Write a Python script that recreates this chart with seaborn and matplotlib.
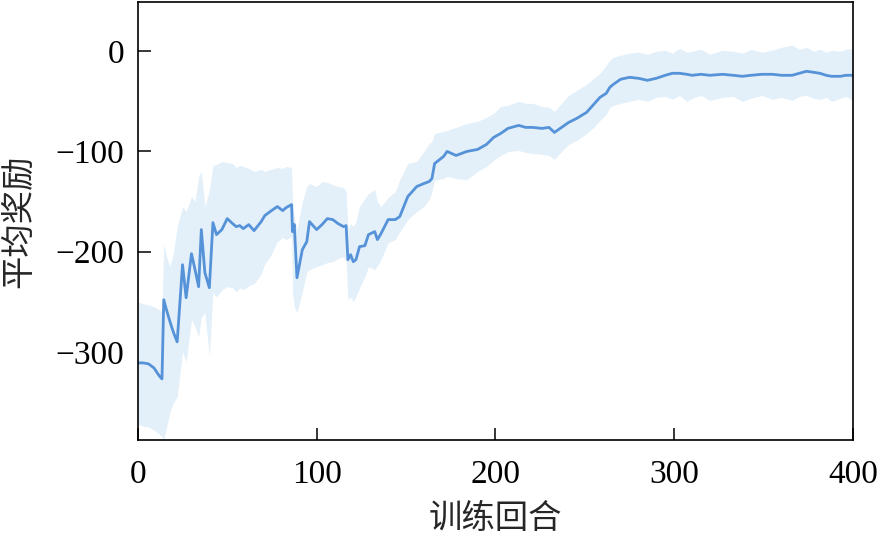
import pandas as pd
import matplotlib
matplotlib.use("Agg")
import matplotlib.pyplot as plt
import seaborn as sns

# training episodes and reward statistics
episodes = [0, 3, 6, 9, 12, 13.5, 14.5, 16, 18, 20, 22, 25, 27, 30, 32, 34, 35.5, 37.5, 40, 42,
            44, 47, 50, 53, 55, 57, 59, 62, 65, 69, 71, 74, 78, 81, 83, 86, 86.5, 87.5, 89, 92,
            94.5, 96, 100, 103, 106, 109, 112, 115, 116.5, 117.5, 119, 120.5, 122, 124, 127, 129, 132.5, 134, 136, 140,
            144, 146.5, 151, 156, 160, 163, 164.5, 166, 171, 173, 178, 184, 190, 195, 199, 203, 207, 213, 217, 221,
            226, 230, 233, 237, 241, 245.5, 251, 255, 258.5, 262, 264, 266, 270, 275, 280, 285, 290, 295, 299, 303,
            307, 310, 315, 320, 327, 333, 338, 343, 349, 355, 360, 366, 370, 374, 378, 381.5, 385, 388, 393, 396, 400]
mean_reward = [-311, -311, -312, -316, -324, -327, -248, -258, -270, -281, -290, -213, -246, -202, -218, -235, -178, -221, -236, -171,
               -183, -178, -167, -172, -175, -174, -177, -173, -179, -170, -164, -160, -155, -159, -156, -153, -180, -173, -226, -198,
               -190, -170, -178, -173, -167, -168, -172, -175, -174, -208, -203, -210, -208, -195, -194, -183, -180, -188, -182, -168,
               -168, -165, -145, -135, -132, -130, -127, -112, -105, -100, -104, -100, -98, -93, -86, -82, -77, -74, -76, -76,
               -77, -76, -81, -76, -71, -67, -61, -53, -46, -42, -36, -33, -28, -26, -27, -29, -27, -24, -22, -22,
               -23, -24, -23, -24, -23, -24, -25, -24, -23, -23, -24, -24, -22, -20, -21, -22, -24, -25, -25, -24, -24]
lower_reward = [-372, -374, -375, -378, -382, -385, -388, -375, -360, -350, -345, -300, -310, -268, -275, -285, -265, -261, -305, -241,
                -245, -238, -235, -236, -240, -236, -238, -234, -232, -222, -212, -205, -190, -186, -188, -185, -240, -255, -261, -240,
                -220, -218, -215, -213, -211, -210, -207, -205, -210, -248, -245, -250, -245, -236, -225, -215, -218, -214, -208, -191,
                -188, -180, -168, -160, -155, -148, -140, -129, -127, -125, -127, -128, -120, -115, -109, -104, -100, -99, -101, -102,
                -103, -104, -108, -100, -93, -89, -82, -76, -69, -63, -56, -54, -52, -50, -48, -50, -46, -45, -48, -44,
                -50, -47, -44, -49, -46, -45, -50, -47, -44, -48, -46, -49, -45, -44, -47, -48, -46, -50, -47, -45, -49]
upper_reward = [-250, -252, -253, -255, -258, -260, -192, -205, -215, -200, -175, -155, -160, -145, -150, -125, -120, -155, -139, -114,
                -113, -110, -111, -112, -116, -114, -115, -117, -120, -118, -120, -118, -116, -117, -115, -116, -150, -165, -178, -150,
                -135, -132, -135, -130, -131, -133, -135, -136, -140, -178, -172, -175, -170, -155, -147, -142, -138, -150, -155, -146,
                -140, -128, -112, -110, -100, -92, -90, -82, -80, -79, -76, -72, -70, -66, -62, -55, -54, -50, -52, -52,
                -55, -56, -60, -52, -44, -39, -33, -27, -22, -14, -9, -6, -4, -2, -1, -3, 0, 1, -2, 3,
                -1, 0, 2, -3, 1, 0, -2, 2, -1, 1, 4, 6, 2, 4, 0, 2, -1, 1, 0, 2, 3]

df = pd.DataFrame({"episode": episodes, "mean": mean_reward, "lower": lower_reward, "upper": upper_reward})

sns.set_style("ticks")
plt.rcParams["font.family"] = ["Liberation Serif", "Noto Sans CJK SC"]
plt.rcParams["axes.unicode_minus"] = True

fig = plt.figure(figsize=(8.78, 5.36), dpi=100)
ax = fig.add_axes([0.157, 0.179, 0.8145, 0.817])

ax.fill_between(df["episode"], df["lower"], df["upper"], color="#e3f0fa", linewidth=0)
sns.lineplot(data=df, x="episode", y="mean", color="#5592d8", linewidth=2.0, ax=ax)

ax.set_xlim(0, 400)
ax.set_ylim(-388, 49)
ax.set_xticks([0, 100, 200, 300, 400])
ax.set_yticks([0, -100, -200, -300])
ax.tick_params(direction="in", length=9, width=1.1, labelsize=24, colors="black")
ax.tick_params(axis="x", pad=14)
ax.tick_params(axis="y", pad=10)
for s in ax.spines.values():
    s.set_color("black")
    s.set_linewidth(1.2)

ax.set_xlabel("训练回合", fontsize=24, family=["Noto Sans CJK SC"], labelpad=8)
ax.set_ylabel("平均奖励", fontsize=24, family=["Noto Sans CJK SC"], labelpad=14)

fig.savefig("out.png", dpi=100)
